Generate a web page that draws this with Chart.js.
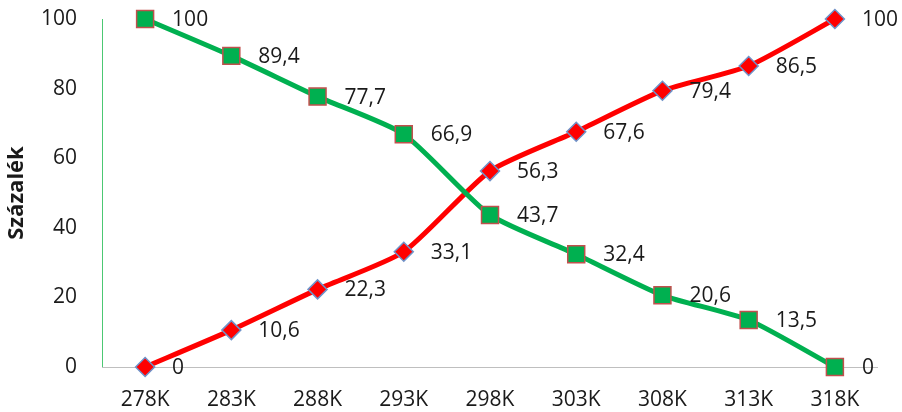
<!DOCTYPE html>
<html>
<head>
<meta charset="utf-8">
<script src="https://cdn.jsdelivr.net/npm/chart.js@4/dist/chart.umd.min.js"></script>
<style>
  html, body { margin: 0; padding: 0; background: #fff; }
  #wrap { width: 902px; height: 412px; }
</style>
</head>
<body>
<div id="wrap"><canvas id="chart" width="902" height="412"></canvas></div>
<script>
const temps = ['278K', '283K', '288K', '293K', '298K', '303K', '308K', '313K', '318K'];
const greenValues = [100, 89.4, 77.7, 66.9, 43.7, 32.4, 20.6, 13.5, 0];
const redValues = [0, 10.6, 22.3, 33.1, 56.3, 67.6, 79.4, 86.5, 100];
const yTicks = [0, 20, 40, 60, 80, 100];

const FONT = '"Open Sans", "Noto Sans", sans-serif';
const fmt = v => String(v).replace('.', ',');

// value labels next to each point
const pointLabels = {
  id: 'pointLabels',
  afterDatasetsDraw(chart) {
    const ctx = chart.ctx;
    ctx.save();
    ctx.font = '21px ' + FONT;
    ctx.fillStyle = '#1a1a1a';
    ctx.textAlign = 'left';
    ctx.textBaseline = 'middle';
    chart.data.datasets.forEach((ds, i) => {
      chart.getDatasetMeta(i).data.forEach((pt, j) => {
        ctx.fillText(fmt(ds.data[j]), pt.x + 27, pt.y + 1);
      });
    });
    ctx.restore();
  }
};

// green vertical axis line and grey baseline
const axisLines = {
  id: 'axisLines',
  beforeDatasetsDraw(chart) {
    const { ctx, chartArea: a } = chart;
    ctx.save();
    ctx.lineWidth = 1;
    ctx.strokeStyle = '#bfbfbf';
    ctx.beginPath();
    ctx.moveTo(a.left, a.bottom + 0.5);
    ctx.lineTo(a.right, a.bottom + 0.5);
    ctx.stroke();
    ctx.strokeStyle = '#4cc873';
    ctx.beginPath();
    ctx.moveTo(a.left + 0.5, a.top);
    ctx.lineTo(a.left + 0.5, a.bottom);
    ctx.stroke();
    ctx.restore();
  }
};

new Chart(document.getElementById('chart'), {
  type: 'line',
  data: {
    labels: temps,
    datasets: [
      {
        data: greenValues,
        borderColor: '#00b050',
        borderWidth: 5,
        tension: 0.2,
        clip: false,
        pointStyle: 'rect',
        pointRadius: 12,
        pointBackgroundColor: '#00b050',
        pointBorderColor: '#c0504d',
        pointBorderWidth: 1.5,
        order: 0
      },
      {
        data: redValues,
        borderColor: '#ff0000',
        borderWidth: 5,
        tension: 0.2,
        clip: false,
        pointStyle: 'rectRot',
        pointRadius: 9.5,
        pointBackgroundColor: '#ff0000',
        pointBorderColor: '#6f93c9',
        pointBorderWidth: 1.5,
        order: 1
      }
    ]
  },
  options: {
    responsive: false,
    animation: false,
    layout: { padding: { top: 19, right: 24, left: 0, bottom: 0 } },
    plugins: { legend: { display: false }, tooltip: { enabled: false } },
    scales: {
      x: {
        offset: true,
        grid: { display: false, drawTicks: false },
        border: { display: false },
        ticks: { color: '#1a1a1a', font: { size: 21, family: FONT }, padding: 20 },
        afterFit(s) { s.height = 45; }
      },
      y: {
        min: 0,
        max: 100,
        afterBuildTicks(s) { s.ticks = yTicks.map(v => ({ value: v })); },
        grid: { display: false, drawTicks: false },
        border: { display: false },
        ticks: { color: '#1a1a1a', font: { size: 21, family: FONT }, padding: 25 },
        title: {
          display: true,
          text: 'Százalék',
          color: '#1a1a1a',
          font: { size: 22, weight: 'bold', family: FONT },
          padding: { top: 4, bottom: 0 }
        },
        afterFit(s) {
          s.width = 102;
          s.paddingTop = 0;
          s.paddingBottom = 0;
        }
      }
    }
  },
  plugins: [axisLines, pointLabels]
});
</script>
</body>
</html>
